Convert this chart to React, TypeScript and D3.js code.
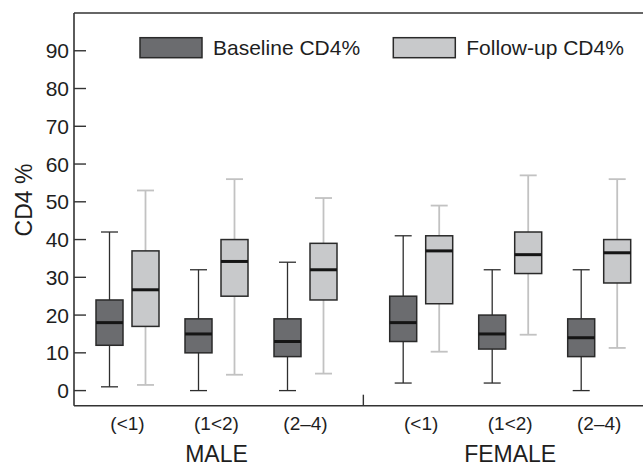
import React from "react";
import * as d3 from "d3";

const groups = ["MALE", "FEMALE"];
const ageLabels = ["(<1)", "(1<2)", "(2–4)"];
const slots = [0, 1, 2, 3.3, 4.3, 5.3];
const yTicks = [0, 10, 20, 30, 40, 50, 60, 70, 80, 90];
const seriesNames = ["Baseline CD4%", "Follow-up CD4%"];

// [min, q1, median, q3, max]
const baseline = [
  [1, 12, 18, 24, 42],
  [0, 10, 15, 19, 32],
  [0, 9, 13, 19, 34],
  [2, 13, 18, 25, 41],
  [2, 11, 15, 20, 32],
  [0, 9, 14, 19, 32],
];
const followUp = [
  [1.5, 17, 26.7, 37, 53],
  [4.2, 25, 34.2, 40, 56],
  [4.5, 24, 32, 39, 51],
  [10.3, 23, 37, 41, 49],
  [14.8, 31, 36, 42, 57],
  [11.3, 28.5, 36.5, 40, 56],
];

const W = 643;
const H = 465;
const FONT = "'Liberation Sans', Arial, Helvetica, sans-serif";

export default function App() {
  const left = 74;
  const top = 13;
  const bottom = 405.7;
  const y = d3.scaleLinear().domain([-4, 100]).range([bottom, top]);
  const x = d3.scaleLinear().domain([0, 1]).range([127.5, 216.5]);
  const offset = 18;
  const bw = 27;
  const capW = 17;

  const series = [
    { data: baseline, dx: -offset, fill: "#6b6c6f", whisker: "#2e2e2e", ww: 1.3 },
    { data: followUp, dx: offset, fill: "#c8c9cb", whisker: "#c2c2c2", ww: 1.8 },
  ];

  return (
    <svg
      width={W}
      height={H}
      style={{ position: "absolute", left: 0, top: 0, background: "#fff" }}
      fontFamily={FONT}
    >
      {/* frame */}
      <line x1={left} x2={W} y1={top} y2={top} stroke="#333" strokeWidth={1.6} />
      <line x1={left} x2={left} y1={top} y2={bottom} stroke="#333" strokeWidth={1.6} />
      <line x1={left} x2={W} y1={bottom} y2={bottom} stroke="#333" strokeWidth={1.6} />
      {/* separator tick */}
      <line x1={x(2.65)} x2={x(2.65)} y1={bottom - 11} y2={bottom} stroke="#333" strokeWidth={1.4} />

      {/* y ticks */}
      {yTicks.map((t) => (
        <g key={t}>
          <line x1={left} x2={left + 12} y1={y(t)} y2={y(t)} stroke="#333" strokeWidth={1.4} />
          <text x={left - 5} y={y(t)} dy="0.36em" textAnchor="end" fontSize={21} fill="#1e1e1e">
            {t}
          </text>
        </g>
      ))}
      <text
        transform={`translate(24,200) rotate(-90)`}
        textAnchor="middle"
        dy="0.36em"
        fontSize={23}
        fill="#1e1e1e"
      >
        CD4 %
      </text>

      {/* boxes */}
      {series.map((s, si) =>
        s.data.map((d, i) => {
          const cx = x(slots[i]) + s.dx;
          const [mn, q1, md, q3, mx] = d;
          return (
            <g key={`${si}-${i}`}>
              <line x1={cx} x2={cx} y1={y(mx)} y2={y(q3)} stroke={s.whisker} strokeWidth={s.ww} />
              <line x1={cx} x2={cx} y1={y(q1)} y2={y(mn)} stroke={s.whisker} strokeWidth={s.ww} />
              <line x1={cx - capW / 2} x2={cx + capW / 2} y1={y(mx)} y2={y(mx)} stroke={s.whisker} strokeWidth={s.ww} />
              <line x1={cx - capW / 2} x2={cx + capW / 2} y1={y(mn)} y2={y(mn)} stroke={s.whisker} strokeWidth={s.ww} />
              <rect
                x={cx - bw / 2}
                y={y(q3)}
                width={bw}
                height={y(q1) - y(q3)}
                fill={s.fill}
                stroke="#2a2a2a"
                strokeWidth={1.5}
              />
              <line x1={cx - bw / 2} x2={cx + bw / 2} y1={y(md)} y2={y(md)} stroke="#151515" strokeWidth={3} />
            </g>
          );
        })
      )}

      {/* x labels */}
      {slots.map((sl, i) => (
        <text key={i} x={x(sl)} y={430} textAnchor="middle" fontSize={19} fill="#1e1e1e">
          {ageLabels[i % 3]}
        </text>
      ))}
      {groups.map((g, gi) => (
        <text key={g} x={x(slots[gi * 3 + 1])} y={461.5} textAnchor="middle" fontSize={23} fill="#1e1e1e">
          {g}
        </text>
      ))}

      {/* legend */}
      {seriesNames.map((n, i) => {
        const lx = i === 0 ? 140 : 393.3;
        return (
          <g key={n}>
            <rect
              x={lx}
              y={37.7}
              width={62}
              height={20}
              fill={series[i].fill}
              stroke="#2a2a2a"
              strokeWidth={1.5}
            />
            <text x={lx + 73} y={55} fontSize={21} fill="#1e1e1e">
              {n}
            </text>
          </g>
        );
      })}
    </svg>
  );
}
